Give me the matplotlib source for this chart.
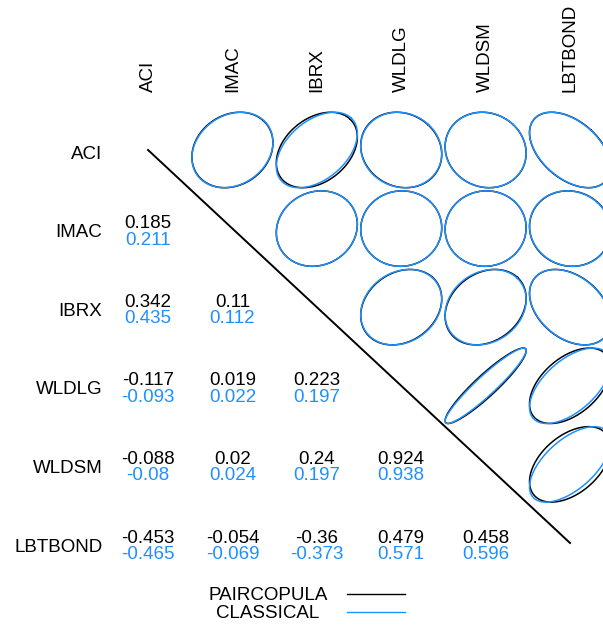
import numpy as np
import matplotlib.pyplot as plt
from matplotlib.lines import Line2D

plt.rcParams['font.family'] = ['Liberation Sans', 'DejaVu Sans']

labels = ["ACI", "IMAC", "IBRX", "WLDLG", "WLDSM", "LBTBOND"]

# lower triangle, row i holds the correlations with columns 0..i-1
pair_corr = [
    [],
    [0.185],
    [0.342, 0.11],
    [-0.117, 0.019, 0.223],
    [-0.088, 0.02, 0.24, 0.924],
    [-0.453, -0.054, -0.36, 0.479, 0.458],
]
classical_corr = [
    [],
    [0.211],
    [0.435, 0.112],
    [-0.093, 0.022, 0.197],
    [-0.08, 0.024, 0.197, 0.938],
    [-0.465, -0.069, -0.373, 0.571, 0.596],
]

black = "black"
blue = "#1e90ff"
fs = 13.5
n = len(labels)

fig = plt.figure(figsize=(6.03, 6.31), dpi=100)
ax = fig.add_axes([0.1755, 0.0772, 0.8398, 0.7474])
ax.set_xlim(-0.5, n - 0.5)
ax.set_ylim(n - 0.5, -0.5)
ax.axis("off")


def corr_ellipse(r, cx, cy, scale=0.48):
    # ellipse inscribed in the cell, shape set by the correlation
    t = np.linspace(0, 2 * np.pi, 200)
    d = np.arccos(r)
    x = np.cos(t + d / 2)
    y = np.cos(t - d / 2)
    return cx + scale * x, cy - scale * y


for i in range(n):
    for j in range(i):
        ax.text(j, i - 0.005, f"{pair_corr[i][j]:g}", color=black,
                ha="center", va="baseline", fontsize=fs)
        ax.text(j, i + 0.205, f"{classical_corr[i][j]:g}", color=blue,
                ha="center", va="baseline", fontsize=fs)
        # mirrored cell in the upper triangle
        ex, ey = corr_ellipse(pair_corr[i][j], i, j)
        ax.plot(ex, ey, color=black, lw=1.1, clip_on=False)
        ex, ey = corr_ellipse(classical_corr[i][j], i, j)
        ax.plot(ex, ey, color=blue, lw=1.1, clip_on=False)

# diagonal through the cell centres
ax.plot([0, n - 1], [0, n - 1], color=black, lw=1.4)

for k, lab in enumerate(labels):
    ax.text(-0.54, k + 0.11, lab, ha="right", va="baseline", fontsize=fs,
            clip_on=False)
    ax.text(k, -0.74, lab, ha="center", va="bottom", rotation=90,
            fontsize=fs, clip_on=False)

# legend
fig.text(268 / 603, 1 - 595 / 631, "PAIRCOPULA", ha="center", va="center", fontsize=fs)
fig.text(268 / 603, 1 - 614 / 631, "CLASSICAL", ha="center", va="center", fontsize=fs)
fig.add_artist(Line2D([347 / 603, 405 / 603], [1 - 594 / 631, 1 - 594 / 631],
                      color=black, lw=1))
fig.add_artist(Line2D([347 / 603, 405 / 603], [1 - 612 / 631, 1 - 612 / 631],
                      color=blue, lw=1))

fig.savefig("out.png", dpi=100)
